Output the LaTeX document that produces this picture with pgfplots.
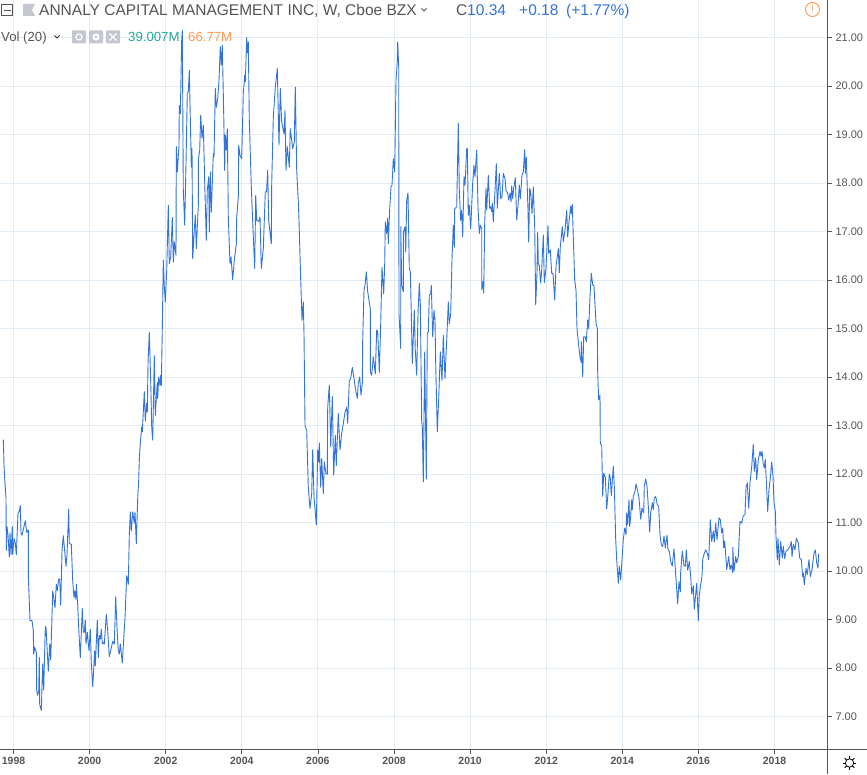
\documentclass[border=0pt]{standalone}
\usepackage{pgfplots}
\usepackage{pgfplotstable}
\usepackage{fontspec}
\usetikzlibrary{calc}
\pgfplotsset{compat=1.18}
\setmainfont{Liberation Sans}
\definecolor{gridc}{HTML}{E1EBF3}
\definecolor{axc}{HTML}{555555}
\definecolor{linec}{HTML}{3274DA}
\definecolor{txt}{HTML}{555555}
\definecolor{teal2}{HTML}{26A69A}
\definecolor{oran}{HTML}{FF9850}
\definecolor{iconc}{HTML}{C4C7D0}
\pgfplotstableread{
px price
3.3 12.71
4 12.19
4.7 11.90
6 11.5
6.3 10.43
7 10.92
8 10.75
9.3 10.29
10 10.79
11 10.34
12.3 10.92
12.7 10.34
14 10.67
15.3 10.58
16.3 10.34
18 11.2
19.3 11.23
20.3 11.35
21 10.79
22 10.74
24 10.92
25.3 11.04
26.7 10.8
28.3 10.85
28.4 9.86
30 8.98
32 8.98
33.3 8.77
33.7 8.29
34.7 8.43
36.3 8.33
36.7 7.54
37.7 7.44
38.7 7.54
39.3 8.22
39.7 7.25
41.3 7.13
42.7 8.09
43.7 7.55
45.3 8.86
46 8.84
48.3 7.94
49.7 8.5
50.7 8.17
52.7 9.59
53.3 9.52
55 9.25
56.3 9.73
57.3 9.6
58.7 9.84
59.7 9.83
60.7 9.3
62 10.41
63.3 10.73
64.7 10.41
66 10.1
67 10.34
68.7 11.28
69.3 10.58
71.3 10.55
72.7 9.8
74 9.45
74.7 9.59
76 9.42
76.3 9.73
77.7 9.3
79 8.7
80.3 8.22
82.3 9.23
83.3 8.74
84.3 8.74
85.3 8.99
86 8.5
87.3 8.74
89 8.36
90.3 8.8
91.3 8.09
92.7 7.62
94.7 8.36
95.3 8.05
97.3 8.99
98.3 8.22
99.3 8.67
100.3 8.6
101.3 8.8
102.3 8.5
103.3 8.53
104.3 8.5
106.3 9.11
107.7 8.77
109.3 8.24
111 8.39
112.7 8.55
114.3 8.5
115.7 9.47
117.3 8.7
118.3 8.36
119.3 8.29
120.3 8.5
122.3 8.11
124 8.7
125 9.04
126.7 9.91
128.3 9.73
129.3 10.75
130.3 11.22
131.3 10.83
132.7 11.22
134.3 10.99
135 11.22
136.3 10.57
137.7 11.5
138.7 11.88
139.3 12.28
140 12.56
141.7 12.97
142.3 12.87
144.3 13.7
145.3 13.1
146.7 13.46
147.3 13.28
148 14.28
149.3 14.92
150 14.42
151 13.66
151.7 12.97
152.7 12.7
154.3 14.44
155.3 13.21
157.3 13.89
157.7 13.56
158.7 14
160 13.83
160.7 14.04
161.3 13.83
162.3 15.0
163.3 16.41
164.3 15.86
165.3 15.55
166.7 16.2
168.3 17.54
169.3 16.34
170.7 16.48
172.3 17.29
173.3 16.37
174.3 16.79
176 16.51
176.3 18.75
177.3 18.23
179 18.78
179.3 19.6
180.3 19.43
181.7 20.95
182.3 21.15
183.3 17.85
184.7 17.13
186 18.4
187.3 19.85
188.3 19.88
189.3 20.33
191.3 18.33
192 18.71
192.7 16.44
194.3 17.03
195.3 17.34
196.3 16.65
198.3 17.54
198.4 18.5
199.7 18.68
200.7 19.4
202 18.92
203.3 19.19
204.7 18.01
206.3 16.82
207.3 17.85
208.7 18.13
209.3 16.99
210.3 18.23
211.3 17.4
213.3 18.61
214 18.54
215.3 19.95
216.3 19.56
217.7 19.74
219 20.12
220.3 20.81
221.3 20.43
222.3 20.84
223.7 19.43
224.7 18.26
225.3 18.99
226.3 18.68
227.3 19.12
228.3 17.3
230 16.34
231 16.48
232.7 16.01
234.3 16.41
236.3 16.75
236.7 17.3
238.3 17.71
238.7 18.78
240 18.57
241.7 18.5
243.3 19.85
244.7 20.22
245.3 20.09
246.7 21.0
247.3 20.68
248.3 20.91
249.3 19.3
251.3 17.92
253.3 16.89
254.7 16.24
255.7 17.75
256.7 17.23
258.7 17.21
260 17.3
261.3 16.24
263.3 16.65
265.3 17.82
266.5 17.82
267.7 18.26
268.7 17.23
271.3 16.75
271.7 17.99
273.3 19.36
275.3 19.98
277.3 20.36
279 18.78
280.3 19.95
281.7 19.26
284 19.02
285 19.5
286 18.26
287.3 18.75
289.3 18.33
290.3 19.12
292.7 18.71
294.3 18.85
295.3 19.98
296.7 18.26
298.3 17.61
299 17.23
300.7 16.0
302 15.17
303.3 15.55
304 14.9
305 13.0
306.7 12.9
308.3 11.73
310 11.29
311.7 11.6
312.7 12.5
314 11.53
316.3 10.95
317.7 12.5
318.7 12.25
319.3 12.64
320.7 11.73
321.7 12.32
323.3 11.6
324.3 12.25
326 12.0
327.3 12.0
327.7 13.38
329.3 13.83
330.7 12.56
332.3 13.6
333.7 11.98
335.3 12.8
336.3 12.18
338.3 13.25
340 12.5
341.7 12.84
343.3 13.04
345 13.28
346.7 13.38
347.7 13.05
349.3 13.93
350.7 13.97
352.3 14.2
354 13.97
355.7 13.73
357.3 13.56
358.3 13.87
359.7 14.0
361 13.63
362.3 13.87
362.7 14.77
364 15.79
365 15.89
366.3 16.17
367.7 15.76
369 15.58
370.3 15.41
370.4 14.1
371.7 14.04
373.3 14.42
375.3 14.07
376.7 14.97
377.7 14.94
379.3 14.1
380.7 15.1
382 16.27
383.7 15.72
384.7 16.34
385.3 17.2
386.7 16.96
387.7 17.27
388.3 16.75
389.7 17.47
391 17.92
392 17.96
393.3 18.5
394.7 18.23
396 20.12
397.3 20.5
397.7 20.91
398.7 20.4
399 15.31
400.7 14.59
400.8 17.1
401.7 15.89
403.3 15.76
403.4 16.99
405 17.1
405.7 16.58
406.7 17.65
408 17.8
409.3 16.24
410.3 16.17
411.3 15.31
412.3 14.28
413.7 15.03
414.3 15.38
415.3 14.55
416.7 14.04
418 15.31
419.3 15.93
420.3 15.52
421.7 13.08
422.3 12.97
423.3 11.84
424.7 14.52
426.3 11.9
427.3 14.9
428.3 14.93
429.3 15.69
430.7 15.72
431.3 15.89
432.7 14.83
434 15.38
435 15.17
435.7 14.28
437.3 12.87
438.7 13.56
440.3 14.52
442 13.93
443.3 14.86
445 13.97
446.7 14.76
448.3 15.55
449.3 15.1
450.7 15.31
452 16.44
453.3 17.13
454.3 16.68
454.7 17.47
456.7 17.51
458.3 19.23
459.3 17.85
460.7 17.23
461.7 17.44
462.7 16.89
464 18.13
465 17.96
466.7 18.71
467.3 18.71
468.3 17.34
469.3 17.54
470.7 17.06
472.7 18
474 18.37
475 18.13
476.7 18.68
478 17.51
479.3 16.96
480.3 17.13
481.7 17.06
481.8 15.8
483 15.97
483.7 15.73
484.7 17.17
486 17.89
486.7 17.44
488.3 18.16
489.7 17.48
490.7 17.51
491.7 17.41
492.3 17.58
493.3 17.2
495 17.85
496.3 18.4
497.3 17.48
499.3 18.2
500.7 17.68
502 17.72
503.3 18.2
505 18.09
506 17.85
507.7 17.79
508.7 17.65
510 17.79
511 17.61
511.7 17.94
512.7 17.68
513.7 17.89
515.3 18.11
516.7 17.24
518 17.54
519.3 17.96
520.3 17.68
522 18.16
523.3 18.23
524.7 18.69
525.3 18.2
526.3 18.53
528 17.44
528.7 16.78
529.7 17.89
530.7 17.82
532 17.37
533.3 17.92
534.7 17.1
535.7 15.49
537 16.14
537.7 16.98
538.3 16.34
539.3 16.3
540.7 15.94
541.7 16.21
543.3 16.93
544.3 15.95
546 16.24
548 17.13
548.7 16.55
550.3 16.62
551.7 16.14
553 16.14
554.7 15.59
556 16.28
558.3 16.65
559.3 16.15
560.3 16.69
562.3 17.1
563.3 16.79
565 17.03
566.7 17.44
567.7 16.89
569 17.2
570.7 17.52
571.3 17.37
572.3 17.56
573.3 16.89
574.7 16.0
576 15.79
577 15.0
578.3 14.73
580 14.42
581.3 14.3
581.4 14.73
582.7 14.01
583.7 14.83
585.3 14.83
586.3 14.73
587.7 15.18
588.7 15
590 15.66
591.3 16.14
592.7 15.9
594 15.88
595 15.49
596 15.11
597.3 15
597.7 14.08
598.7 13.53
600 13.63
600.3 12.64
601.7 12.58
602.7 11.54
603.7 12.02
605.3 11.94
606.7 11.28
608 11.61
609.3 12
610.3 11.92
611.3 11.56
613.3 12.16
614.3 11.75
615.7 10.65
616.7 10.24
618.3 9.75
619.3 10.1
620.7 9.82
622 10.24
623.3 10.65
624.7 10.89
626 10.75
626.7 11.2
627.7 10.96
629 11.47
629.7 10.92
630.7 11.13
631.7 11.47
632.3 11.27
633.3 11.54
635 11.65
636 11.8
637.7 11.65
639 11.51
640.7 11.07
642 11.3
643.7 11.2
644.3 11.75
645.7 11.9
647 11.75
648.3 11.34
649.7 10.81
650.7 11.2
652.3 11.41
653.3 11.27
654.3 11.51
655.7 11.54
657.3 11.37
658.7 11.34
660 10.75
661.3 10.54
662.7 10.51
664 10.72
665.3 10.48
667 10.74
668 10.44
669.3 10.41
671 10.17
672.3 10.11
674 10.46
675.7 9.93
677.7 9.33
679 9.79
680.3 9.58
680.7 9.99
682.3 10.41
684 10.11
685.3 10.1
686.3 10.44
687.7 10.02
689.3 10.2
690.7 9.89
691.7 9.53
693.3 9.7
694.3 9.22
696.7 9.75
698.3 8.98
699.3 9.51
700.7 9.73
702 9.89
702.7 10.24
704.3 10.37
705.7 10.44
707.3 10.37
708.7 10.24
710.3 11.06
711.7 10.61
713.3 10.82
714.3 10.6
715.7 10.99
717 10.65
719 11.1
720.3 11.06
721.7 10.79
722.7 10.89
723.7 10.48
724.7 10.62
726.7 10.03
728.7 10.3
730 10.03
731.3 10.13
732.7 9.97
732.8 10.49
734 10
735.7 10.3
736.7 10.17
738.3 10.3
740 11.03
741.7 10.99
743.3 11.15
745 11.16
746 11.72
747.3 11.82
748.7 11.3
750 11.82
751.7 12.16
753.3 12.61
754.3 12.06
755.7 12.33
756.7 11.89
758.3 12.3
760 12.47
761 12.37
762 12.47
763.3 12.2
764.3 12.13
765.3 12.3
766.7 11.68
767.7 11.23
769 11.68
770.3 11.92
771.7 12.25
773 11.96
774 11.41
775.3 11.23
776 10.72
777.3 10.24
778 10.68
779.3 10.13
780.7 10.61
782.3 10.27
783.3 10.51
784.7 10.26
786 10.41
787.7 10.44
790 10.51
791.3 10.61
792 10.3
793.3 10.55
795 10.44
796.3 10.68
798.3 10.58
799.7 10.27
801.3 10.24
802.7 9.89
803.3 9.96
804.3 9.72
806 10.06
807.3 9.93
809 10.24
810.3 9.89
812 10.03
814 10.37
815.3 10.44
816.7 10.17
818 10.06
818.7 10.36
}\pricedata
\begin{document}
\begin{tikzpicture}
\path[use as bounding box] (0pt,0pt) rectangle (867pt,774pt);
\fill[white] (0pt,0pt) rectangle (867pt,774pt);
\begin{axis}[
  at={(0pt,25pt)}, anchor=south west,
  scale only axis, width=827.5pt, height=749pt,
  xmin=1997.645, xmax=2019.393,
  ymin=6.334, ymax=21.774,
  axis x line*=bottom, axis y line*=right,
  axis line style={axc,line width=1pt,-},
  xtick={1998,2000,...,2018},
  ytick={7,8,...,21},
  grid=major,
  major grid style={gridc,line width=1pt},
  tick style={axc,line width=0.8pt},
  tick align=outside,
  major tick length=4.5pt,
  x tick label style={font=\bfseries\fontsize{10.5}{12}\selectfont,text=txt,yshift=-0.5pt,
     /pgf/number format/.cd,1000 sep={},fixed,precision=0},
  y tick label style={font=\fontsize{11}{13}\selectfont,text=txt,xshift=0pt,
     /pgf/number format/.cd,fixed,fixed zerofill,precision=2},
  /pgf/number format/assume math mode=true,
  clip=true,
  axis on top=false,
]
\addplot[linec,line width=0.9pt,line join=round] table[x expr={1998+(\thisrow{px}-13.5)/38.05},y=price] {\pricedata};
\end{axis}
\begin{scope}[x=1pt,y=-1pt,yshift=774pt]
\draw[axc,line width=1pt] (827.5,749) -- (827.5,774);
\draw[axc,line width=1pt] (827.5,749) -- (867,749);
% header
\draw[txt,line width=0.7pt] (1.5,4.5) rectangle (12.5,15);
\draw[txt,line width=0.7pt] (3.5,10) -- (10.5,10);
\fill[iconc] (23,4) -- (35,4) -- (32,10) -- (35,16) -- (23,16) -- cycle;
\node[anchor=base west,inner sep=0pt,text=txt,font=\fontsize{15.5}{17}\selectfont] at (39,16) {ANNALY CAPITAL MANAGEMENT INC, W, Cboe BZX};
\draw[txt,line width=0.9pt] (421.5,8.5) -- (424,11) -- (426.5,8.5);
\node[anchor=base west,inner sep=0pt,text=txt,font=\fontsize{15.5}{17}\selectfont] at (456,16) {C};
\node[anchor=base west,inner sep=0pt,text=linec,font=\fontsize{15.5}{17}\selectfont] at (467,16) {10.34};
\node[anchor=base west,inner sep=0pt,text=linec,font=\fontsize{15.5}{17}\selectfont] at (519,16) {+0.18};
\node[anchor=base west,inner sep=0pt,text=linec,font=\fontsize{15.5}{17}\selectfont] at (566,16) {(+1.77\%)};
\draw[oran,line width=0.9pt] (812.5,9.5) circle (7);
\node[text=oran,inner sep=0pt,font=\fontsize{10}{12}\selectfont] at (812.5,9.5) {!};
\node[anchor=base west,inner sep=0pt,text=txt,font=\fontsize{13.2}{15}\selectfont] at (1,42) {Vol (20)};
\draw[black!80,line width=0.8pt] (54.5,35.5) -- (57,38) -- (59.5,35.5);
\foreach \xx in {72,89,106}{\fill[iconc,rounded corners=1pt] (\xx,30.5) rectangle ++(14,13);}
\draw[white,line width=1.2pt] (79,37) circle (3);
\fill[white] (96,37) circle (3.6);
\fill[iconc] (96,37) circle (1.5);
\draw[white,line width=1.4pt] (109.5,33.5) -- (116.5,40.5) (116.5,33.5) -- (109.5,40.5);
\node[anchor=base west,inner sep=0pt,text=teal2,font=\fontsize{13.2}{15}\selectfont] at (128,42) {39.007M};
\node[anchor=base west,inner sep=0pt,text=oran,font=\fontsize{13.2}{15}\selectfont] at (188,42) {66.77M};
% settings icon
\draw[black,line width=0.8pt] (849.5,763) circle (4.2);
\foreach \a in {0,45,...,315}{\draw[black,line width=0.8pt] ($(849.5,763)+(\a:4.2)$) -- ($(849.5,763)+(\a:6.8)$);}
\end{scope}
\end{tikzpicture}
\end{document}
